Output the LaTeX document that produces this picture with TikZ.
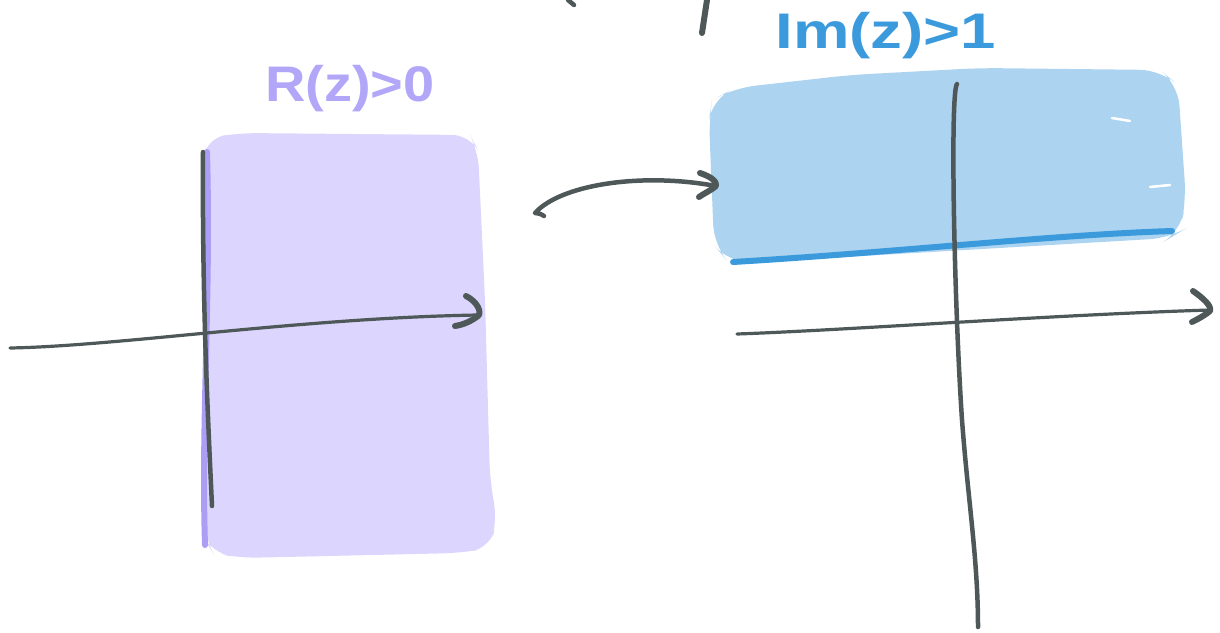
\documentclass[tikz,border=0pt]{standalone}
\usepackage{fontspec}
\setmainfont{Liberation Sans}
\definecolor{ink}{HTML}{4E5858}
\definecolor{lav}{HTML}{DCD5FD}
\definecolor{lavline}{HTML}{AC9EF6}
\definecolor{lavtext}{HTML}{B2A6F8}
\definecolor{sky}{HTML}{ACD3EF}
\definecolor{skyline}{HTML}{3A9ADC}
\tikzset{
  axisline/.style={draw=ink, line width=4.5pt, line cap=round, line join=round},
  thinaxis/.style={draw=ink, line width=3.2pt, line cap=round},
  headline/.style={draw=ink, line width=6pt, line cap=round, line join=round},
  lbl/.style={inner sep=0pt, font=\fontsize{50}{56}\selectfont\bfseries}
}
\begin{document}
\begin{tikzpicture}[x=1pt,y=-1pt]
\useasboundingbox (0,0) rectangle (1220,632);
% regions
\fill[lav, rounded corners=18pt] (203,160) -- (207,138) -- (240,133) -- (470,135) -- (478,150) -- (485,300) -- (490,480) -- (497,520) -- (490,548) -- (460,553) -- (240,558) -- (213,553) -- (205,540) -- cycle;
\fill[sky, rounded corners=20pt] (712,100) -- (735,88) -- (850,75) -- (980,68) -- (1160,70) -- (1178,85) -- (1186,200) -- (1180,232) -- (1170,238) -- (760,262) -- (728,262) -- (714,245) -- (709,120) -- cycle;
\draw[white, line width=2.5pt, line cap=round] (1112,118) -- (1130,121);
\draw[white, line width=2.5pt, line cap=round] (1150,187) -- (1170,185);
% boundary lines
\coordinate (pt) at (207,152);
\coordinate (pb) at (205,545);
\draw[lavline, line width=6pt, line cap=round] (pt) .. controls (211,300) and (201,420) .. (pb);
\coordinate (bl) at (733,262);
\coordinate (br) at (1172,231);
\draw[skyline, line width=6pt, line cap=round] (bl) .. controls (900,252) and (1050,235) .. (br);
% left axes
\coordinate (lyt) at (203,152);
\coordinate (lyb) at (212,506);
\draw[axisline] (lyt) .. controls (202,300) and (208,420) .. (lyb);
\coordinate (lxl) at (10,348);
\coordinate (lxr) at (478,315);
\draw[thinaxis] (lxl) .. controls (120,346) and (300,318) .. (lxr);
\draw[headline] (466,296) .. controls (478,302) and (482,313) .. (478,316) .. controls (470,322) and (462,325) .. (455,326);
% right axes
\coordinate (ryt) at (957,84);
\coordinate (ryb) at (978,627);
\draw[axisline] (ryt) .. controls (950,92) and (954,300) .. (962,420) .. controls (968,500) and (978,560) .. (ryb);
\coordinate (rxl) at (737,334);
\coordinate (rxr) at (1210,310);
\draw[thinaxis] (rxl) .. controls (850,330) and (1050,315) .. (rxr);
\draw[headline] (1193,291) .. controls (1203,298) and (1212,306) .. (1210,311) .. controls (1204,316) and (1196,320) .. (1192,322);
% mapping arrow
\coordinate (ms) at (535,213);
\coordinate (me) at (716,186);
\draw[axisline] (544,216) .. controls (538,212) and (536,214) .. (ms) .. controls (560,185) and (640,172) .. (me);
\draw[headline] (700,173) .. controls (712,177) and (717,182) .. (716,186) .. controls (710,191) and (703,194) .. (699,197);
% stray strokes at the top
\coordinate (s1a) at (568,0);
\coordinate (s1b) at (574,5);
\draw[axisline] (s1a) -- (s1b);
\coordinate (s2a) at (707,0);
\coordinate (s2b) at (702,33);
\draw[headline] (s2a) -- (s2b);
% labels
\node[lbl, text=lavtext, xscale=1.12] (lre) at (350,89) {R(z)>0};
\node[lbl, text=skyline, xscale=1.27] (lim) at (886,36) {Im(z)>1};
\end{tikzpicture}
\end{document}
